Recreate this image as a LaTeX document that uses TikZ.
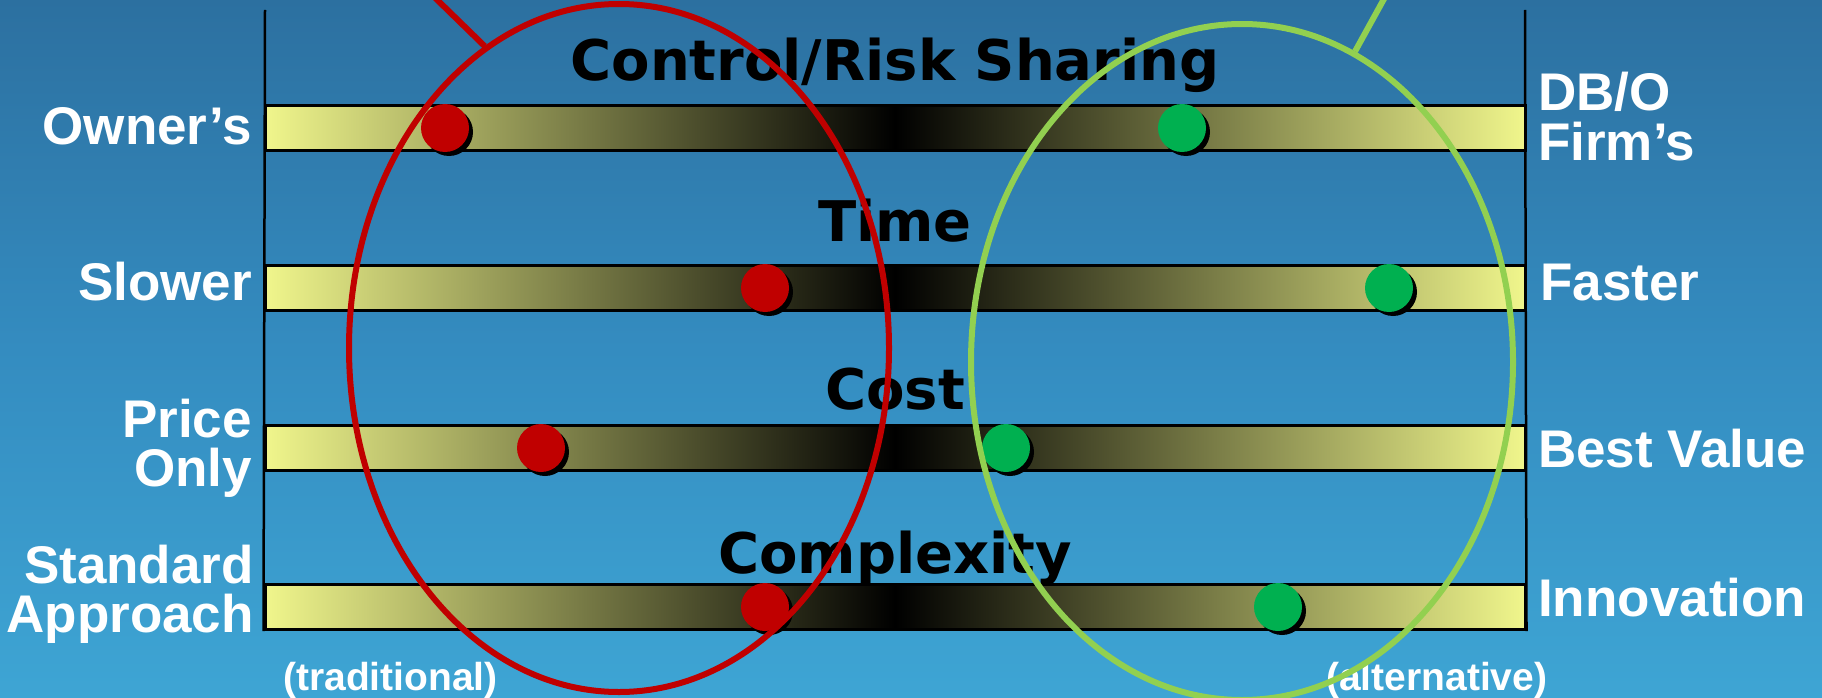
\documentclass[tikz,border=0pt]{standalone}
\usepackage{fontspec}
\setmainfont{Liberation Sans}
\newfontfamily\headfont{DejaVu Sans}
\usetikzlibrary{positioning,shapes.geometric,shadows}

\definecolor{seatop}{RGB}{44,112,160}
\definecolor{seamid}{RGB}{52,140,192}
\definecolor{seabot}{RGB}{62,165,212}
\definecolor{barlight}{RGB}{240,246,140}
\definecolor{tradred}{RGB}{192,0,0}
\definecolor{dotgreen}{RGB}{0,176,80}
\definecolor{ringgreen}{RGB}{146,208,80}

\begin{document}
\begin{tikzpicture}[x=1pt, y=-1pt,
            sky/.style = {rectangle, inner sep=0, outer sep=0,
                    minimum width=1822pt, minimum height=698pt,
                    top color=seatop, bottom color=seabot, middle color=seamid},
            halfbar/.style = {rectangle, draw=black, line width=3pt, inner sep=0,
                    minimum width=630pt, minimum height=45pt},
            fadein/.style = {halfbar, left color=barlight, right color=black},
            fadeout/.style = {halfbar, left color=black, right color=barlight},
            topic/.style = {font=\headfont\bfseries\fontsize{56}{60}\selectfont,
                    inner sep=0, anchor=base},
            side/.style = {font=\bfseries\fontsize{53}{49}\selectfont,
                    text=white, inner sep=0},
            note/.style = {font=\bfseries\fontsize{39}{42}\selectfont,
                    text=white, inner sep=0, anchor=base west},
            pick/.style = {circle, inner sep=0, minimum size=48pt,
                    drop shadow={shadow xshift=4pt, shadow yshift=-4pt,
                    fill=black, opacity=1}},
            ring/.style = {ellipse, draw, line width=6pt, inner sep=0}]
        \node[sky] (sea) at (911,349) {};
        \clip (0,0) rectangle (1822,698);

        % the four scales
        \foreach \n/\y in {1/128,2/288,3/448,4/607} {
            \node[fadein] (l\n) at (580,\y) {};
            \node[fadeout] (r\n) at (1210,\y) {};
        }
        \coordinate (axisl) at (265,10);
        \coordinate (axisr) at (1525,10);
        \draw[line width=2.5pt] (axisl) -- (l4.south west);
        \draw[line width=2.5pt] (axisr) -- (r4.south east);

        \node[topic] (risk) at (895,81) {Control/Risk Sharing};
        \node[topic] (time) at (895,241) {Time};
        \node[topic] (cost) at (895,409) {Cost};
        \node[topic] (complex) at (895,573) {Complexity};

        % end labels
        \node[side, anchor=base east] (owner) at (252,144) {Owner’s};
        \node[side, anchor=base east] (slow) at (252,300) {Slower};
        \node[side, anchor=base east, align=right] (price) at (252,486) {Price\\Only};
        \node[side, anchor=base east, align=right] (std) at (254,632) {Standard\\Approach};
        \node[side, anchor=base west, align=left] (firm) at (1538,160) {DB/O\\Firm’s};
        \node[side, anchor=base west] (fast) at (1540,300) {Faster};
        \node[side, anchor=base west] (value) at (1538,467) {Best Value};
        \node[side, anchor=base west] (innov) at (1538,616) {Innovation};
        \node[note] (trad) at (283,690) {(traditional)};
        \node[note] (alt) at (1326,690) {(alternative)};

        % positions on each scale
        \node[pick, fill=tradred] (t1) at (445,128) {};
        \node[pick, fill=tradred] (t2) at (765,288) {};
        \node[pick, fill=tradred] (t3) at (541,448) {};
        \node[pick, fill=tradred] (t4) at (765,607) {};
        \node[pick, fill=dotgreen] (a1) at (1182,128) {};
        \node[pick, fill=dotgreen] (a2) at (1389,288) {};
        \node[pick, fill=dotgreen] (a3) at (1006,448) {};
        \node[pick, fill=dotgreen] (a4) at (1278,607) {};

        % the two groups
        \node[ring, draw=tradred, minimum width=540pt, minimum height=688pt] (tradring) at (619,348) {};
        \node[ring, draw=ringgreen, minimum width=542pt, minimum height=676pt] (altring) at (1242,362) {};
        \coordinate (tradtip) at (425,-12);
        \coordinate (alttip) at (1390,-12);
        \draw[tradred, line width=6pt] (tradtip) -- (tradring.114.8);
        \draw[ringgreen, line width=6pt] (alttip) -- (altring.70.6);
    \end{tikzpicture}
\end{document}
